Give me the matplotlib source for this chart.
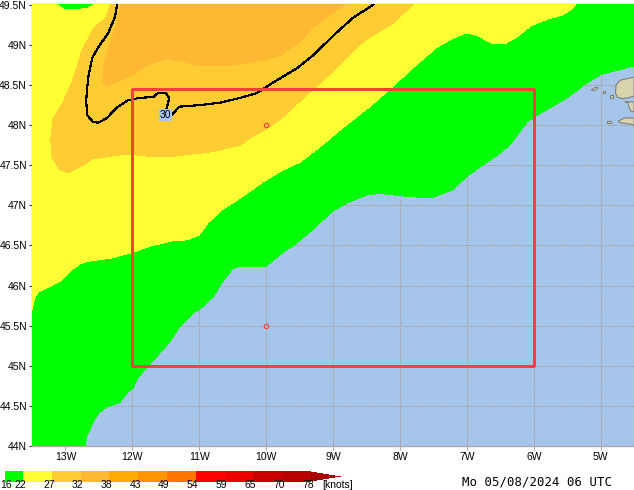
"""Redraw the wind speed map for 05/08/2024 06 UTC."""
import matplotlib

matplotlib.use("Agg")
import matplotlib.pyplot as plt  # noqa: E402

# contour boundaries, lon / lat in degrees
LON_16 = [-12.71, -12.68, -12.59, -12.51, -12.38, -12.19, -12.07, -11.99, -11.92, -11.78, -11.63, -11.44, -11.29, -11.09, -11.00, -10.79, -10.66, -10.50, -10.39, -10.00, -9.84, -9.69, -9.60, -9.30, -9.02, -8.79, -8.49, -8.30, -8.00, -7.70, -7.51, -7.22, -7.00, -6.80, -6.55, -6.36, -6.10, -6.00, -5.50, -5.25, -5.00, -4.76, -4.50]
LAT_16 = [44.00, 44.12, 44.29, 44.41, 44.49, 44.54, 44.67, 44.72, 44.85, 44.98, 45.12, 45.30, 45.49, 45.66, 45.70, 45.86, 46.04, 46.21, 46.24, 46.24, 46.35, 46.45, 46.49, 46.70, 46.92, 47.03, 47.13, 47.15, 47.12, 47.10, 47.10, 47.19, 47.36, 47.48, 47.62, 47.75, 48.04, 48.10, 48.34, 48.50, 48.63, 48.68, 48.74]

LON_22 = [-13.51, -13.46, -13.40, -13.23, -13.05, -12.90, -12.78, -12.68, -12.33, -12.01, -11.74, -11.39, -11.18, -11.00, -10.87, -10.65, -10.35, -10.05, -9.75, -9.49, -9.15, -8.85, -8.45, -8.15, -7.81, -7.45, -7.24, -7.00, -6.85, -6.63, -6.42, -6.25, -6.04, -5.80, -5.58, -5.44, -5.37]
LAT_22 = [45.66, 45.85, 45.92, 45.99, 46.07, 46.20, 46.27, 46.30, 46.34, 46.41, 46.49, 46.56, 46.57, 46.63, 46.78, 46.95, 47.11, 47.29, 47.44, 47.54, 47.76, 47.97, 48.23, 48.45, 48.71, 48.97, 49.07, 49.15, 49.12, 49.02, 49.02, 49.10, 49.24, 49.32, 49.37, 49.44, 49.51]

LON_PATCH = [-13.10, -13.01, -12.86, -12.68, -12.60]
LAT_PATCH = [49.51, 49.46, 49.45, 49.47, 49.51]

LON_27 = [-12.33, -12.39, -12.59, -12.75, -12.89, -13.04, -13.19, -13.22, -13.20, -13.08, -12.96, -12.78, -12.59, -12.08, -11.74, -11.39, -10.80, -10.39, -10.24, -9.94, -9.75, -9.39, -9.05, -8.79, -8.52, -8.10, -7.80]
LAT_27 = [49.51, 49.35, 49.19, 48.94, 48.56, 48.28, 48.07, 47.82, 47.59, 47.44, 47.41, 47.48, 47.58, 47.64, 47.61, 47.61, 47.67, 47.75, 47.84, 47.98, 48.10, 48.38, 48.63, 48.85, 49.06, 49.27, 49.51]

LON_32 = [-12.17, -12.23, -12.33, -12.42, -12.44, -12.39, -12.26, -11.99, -11.78, -11.48, -11.24, -10.99, -10.50, -10.09, -9.79, -9.49, -9.32, -9.09, -8.82]
LAT_32 = [49.51, 49.27, 49.02, 48.78, 48.56, 48.48, 48.53, 48.63, 48.75, 48.83, 48.79, 48.74, 48.75, 48.80, 48.87, 49.04, 49.21, 49.34, 49.51]

# 30 knot isoline, interrupted by its label
LON_30_A = [-12.23, -12.26, -12.36, -12.51, -12.60, -12.66, -12.69, -12.68, -12.59, -12.51, -12.38, -12.23, -12.07, -11.89, -11.69, -11.62, -11.50, -11.45, -11.48, -11.50]
LAT_30_A = [49.50, 49.35, 49.15, 48.97, 48.84, 48.60, 48.32, 48.13, 48.04, 48.03, 48.09, 48.22, 48.31, 48.34, 48.35, 48.40, 48.40, 48.34, 48.23, 48.17]
LON_30_B = [-11.41, -11.30, -10.99, -10.69, -10.39, -10.14, -9.90, -9.54, -9.30, -8.94, -8.70, -8.40]
LAT_30_B = [48.13, 48.23, 48.25, 48.28, 48.34, 48.40, 48.53, 48.71, 48.87, 49.16, 49.34, 49.50]

# land at the right edge
LAND = [
    ([-4.50, -4.71, -4.77, -4.78, -4.75, -4.68, -4.60, -4.50], [48.60, 48.56, 48.50, 48.40, 48.35, 48.33, 48.34, 48.36]),
    ([-4.64, -4.59, -4.58, -4.55, -4.50, -4.50], [48.29, 48.28, 48.23, 48.17, 48.17, 48.29]),
    ([-4.74, -4.64, -4.50, -4.50, -4.60, -4.71], [48.05, 48.09, 48.09, 48.00, 48.02, 48.03]),
    ([-5.14, -5.08, -5.04, -5.07, -5.12], [48.44, 48.47, 48.47, 48.44, 48.43]),
    ([-4.86, -4.82, -4.82, -4.86], [48.34, 48.34, 48.38, 48.38]),
    ([-4.96, -4.93, -4.93, -4.96], [48.40, 48.40, 48.43, 48.43]),
    ([-4.90, -4.85, -4.85, -4.90], [48.03, 48.03, 48.05, 48.05]),
]

BOX_LON = [-12, -6, -6, -12, -12]
BOX_LAT = [45, 45, 48.45, 48.45, 45]
POINT_LON = [-10, -10]
POINT_LAT = [48, 45.5]
LABEL_LON = -11.505
LABEL_LAT = 48.127

LON_TICKS = [-13, -12, -11, -10, -9, -8, -7, -6, -5]
LON_LABELS = ["13W", "12W", "11W", "10W", "9W", "8W", "7W", "6W", "5W"]
LAT_TICKS = [44, 44.5, 45, 45.5, 46, 46.5, 47, 47.5, 48, 48.5, 49, 49.5]
LAT_LABELS = ["44N", "44.5N", "45N", "45.5N", "46N", "46.5N", "47N", "47.5N", "48N", "48.5N", "49N", "49.5N"]

CBAR_LABELS = ["22", "27", "32", "38", "43", "49", "54", "59", "65", "70", "78"]
CBAR_COLORS = ["#00ff00", "#ffff33", "#ffcc33", "#ffb833", "#ffaa00", "#ff9500", "#ff7700", "#ff0000", "#ee0000", "#c80000", "#b80000"]
TAIL_HEIGHTS = [9, 7, 5, 3, 1]

OCEAN = "#a6c5ea"
GRID = "#aaaaaa"
RED = "#f5403f"
DASH = (0, (7, 1.5, 1.5, 1.5))
TICK_FONT = {"family": "Liberation Sans", "fontsize": 7.5}
XMIN, XMAX = -13.508, -4.51
YMIN, YMAX = 44.008, 49.504


def draw_map(ax):
    ax.set_facecolor(OCEAN)
    ax.set_xlim(XMIN, XMAX)
    ax.set_ylim(YMIN, YMAX)

    for x in LON_TICKS:
        ax.axvline(x, color=GRID, lw=0.75, ls=DASH, antialiased=False, zorder=1)
    for y in LAT_TICKS:
        ax.axhline(y, color=GRID, lw=0.75, ls=DASH, antialiased=False, zorder=1)

    for lon, lat in LAND:
        ax.fill(lon, lat, facecolor="#d8d4ae", edgecolor="#808080", lw=0.8, zorder=2)

    # the 16 knot boundary runs from the bottom edge to the right edge
    ax.fill(
        [XMIN, XMIN] + LON_16 + [XMAX + 0.01],
        [YMAX + 0.01, YMIN - 0.01] + LAT_16 + [YMAX + 0.01],
        color="#00ff00", lw=0, antialiased=False, zorder=3,
    )
    ax.fill(
        LON_22 + [XMIN - 0.01],
        LAT_22 + [YMAX + 0.01],
        color="#ffff33", lw=0, antialiased=False, zorder=4,
    )
    ax.fill(LON_PATCH, LAT_PATCH, color="#00ff00", lw=0, antialiased=False, zorder=5)
    ax.fill(LON_27, LAT_27, color="#ffcc33", lw=0, antialiased=False, zorder=5)
    ax.fill(LON_32, LAT_32, color="#ffb833", lw=0, antialiased=False, zorder=6)

    ax.plot(LON_30_A, LAT_30_A, color="black", lw=0.8, antialiased=False, zorder=7)
    ax.plot(LON_30_B, LAT_30_B, color="black", lw=0.8, antialiased=False, zorder=7)
    ax.text(
        LABEL_LON, LABEL_LAT, "30", ha="center", va="center", color="black", zorder=8,
        bbox={"facecolor": OCEAN, "edgecolor": "none", "pad": 0.8}, **TICK_FONT,
    )

    ax.plot(BOX_LON, BOX_LAT, color=RED, lw=0.95, antialiased=False, zorder=9)
    ax.plot(POINT_LON, POINT_LAT, ls="none", marker="o", ms=3.2, mfc="none", mec=RED, mew=0.8, zorder=9)

    ax.set_xticks(LON_TICKS, LON_LABELS, **TICK_FONT)
    ax.set_yticks(LAT_TICKS, LAT_LABELS, **TICK_FONT)
    ax.tick_params(axis="x", length=3, width=0.8, color=GRID, pad=1.5)
    ax.tick_params(axis="y", length=2.5, width=0.8, color="#333333", pad=0.8)
    for spine in ax.spines.values():
        spine.set_color(GRID)
        spine.set_linewidth(1.0)


def draw_colorbar(ax):
    # pixel layout of the legend strip
    ax.set_xlim(0, 634)
    ax.set_ylim(490, 0)
    ax.axis("off")

    left = 5
    top, height = 471, 11
    label_y = 485
    ax.text(6, label_y, "16", ha="center", va="center", **TICK_FONT)
    for i, (label, color) in enumerate(zip(CBAR_LABELS, CBAR_COLORS)):
        width = 18 if i == 0 else 28.8
        ax.bar(left, height, width, bottom=top, align="edge", color=color, lw=0, antialiased=False)
        left += width
        ax.text(left - 3, label_y, label, ha="center", va="center", **TICK_FONT)

    center = top + height / 2
    for h in TAIL_HEIGHTS:
        ax.bar(left, h, 6, bottom=center - h / 2, align="edge", color="#a80000", lw=0, antialiased=False)
        left += 6

    ax.text(322, label_y, "[knots]", ha="left", va="center", **TICK_FONT)
    ax.text(462, 481.5, "Mo 05/08/2024 06 UTC", ha="left", va="center", family="DejaVu Sans Mono", fontsize=8.9)


def main():
    fig = plt.figure(figsize=(6.34, 4.9), dpi=100)
    bar_ax = fig.add_axes([0, 0, 1, 1])
    draw_colorbar(bar_ax)
    map_ax = fig.add_axes([31.5 / 634, 44 / 490, 602 / 634, 441.5 / 490])
    draw_map(map_ax)
    fig.savefig("out.png", dpi=100)
    plt.close(fig)


if __name__ == "__main__":
    main()
